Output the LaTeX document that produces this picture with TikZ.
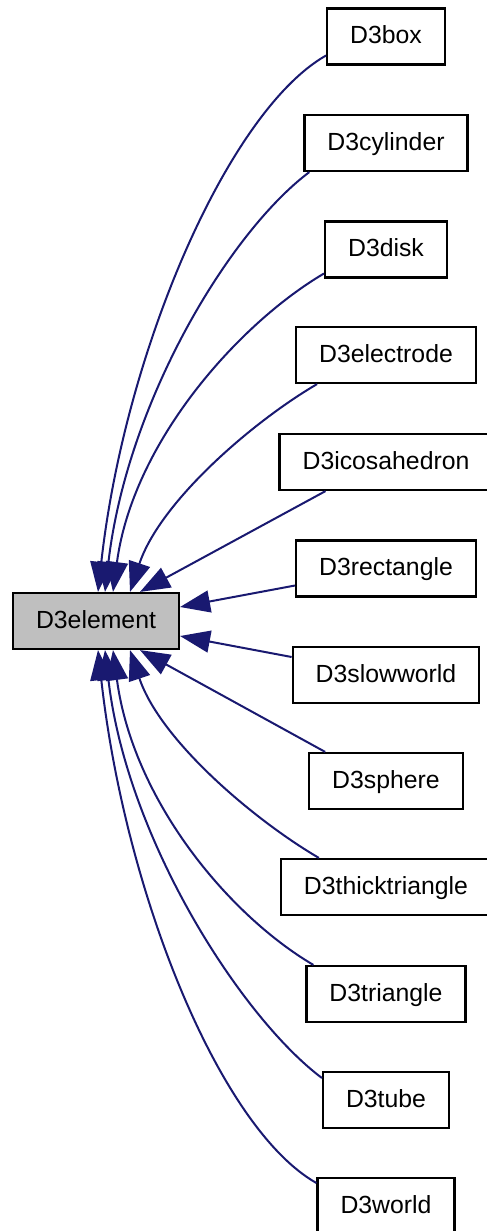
\documentclass[tikz,border=0pt]{standalone}
\usepackage{fontspec}
\setmainfont{Liberation Sans}
\usetikzlibrary{arrows.meta}
\definecolor{edgeblue}{HTML}{191970}
\definecolor{basegray}{HTML}{BFBFBF}
\begin{document}
\begin{tikzpicture}[x=1pt,y=-1pt,
  cls/.style={draw=black, line width=2.2pt, fill=white, minimum height=56pt,
    inner xsep=23pt, inner ysep=0pt, text height=18pt, text depth=4pt,
    font=\fontsize{24.8pt}{30pt}\selectfont},
  basecls/.style={cls, fill=basegray},
  inh/.style={draw=edgeblue, line width=2pt, -{Triangle[length=30pt,width=22pt]}}
]
\useasboundingbox (0,0) rectangle (487,1231);
\node[basecls] (el) at (96,621) {D3element};
\node[cls] (box)   at (386,36.5) {D3box};
\node[cls] (cyl)   at (386,143) {D3cylinder};
\node[cls] (disk)  at (386,249.5) {D3disk};
\node[cls] (ele)   at (386,355) {D3electrode};
\node[cls] (ico)   at (386,462) {D3icosahedron};
\node[cls] (rect)  at (386,568.5) {D3rectangle};
\node[cls] (slow)  at (386,675) {D3slowworld};
\node[cls] (sph)   at (386,781) {D3sphere};
\node[cls] (thick) at (386,887) {D3thicktriangle};
\node[cls] (tri)   at (386,994) {D3triangle};
\node[cls] (tube)  at (386,1100) {D3tube};
\node[cls] (world) at (386,1206) {D3world};

\draw[inh] ([yshift=-19pt]box.west) .. controls +(-97,55) and +(27,-243) .. ([xshift=2pt]el.north);
\draw[inh] ([xshift=6pt]cyl.south west) .. controls +(-80,60) and +(22,-190) .. ([xshift=9pt]el.north);
\draw[inh] ([yshift=-24pt]disk.west) .. controls +(-85,50) and +(20,-150) .. ([xshift=17pt]el.north);
\draw[inh] ([xshift=22pt]ele.south west) .. controls +(-65,38) and +(30,-90) .. ([xshift=34pt]el.north);
\draw[inh] ([xshift=47pt]ico.south west) -- ([xshift=44pt]el.north);
\draw[inh] ([yshift=-17pt]rect.west) -- ([yshift=14pt]el.east);
\draw[inh] ([yshift=18pt]slow.west) -- ([yshift=-15pt]el.east);
\draw[inh] ([xshift=17pt]sph.north west) -- ([xshift=44pt]el.south);
\draw[inh] ([xshift=39pt]thick.north west) .. controls +(-65,-38) and +(30,90) .. ([xshift=34pt]el.south);
\draw[inh] ([xshift=8pt]tri.north west) .. controls +(-85,-50) and +(20,150) .. ([xshift=17pt]el.south);
\draw[inh] ([yshift=22pt]tube.west) .. controls +(-80,-60) and +(22,190) .. ([xshift=9pt]el.south);
\draw[inh] ([yshift=23pt]world.west) .. controls +(-97,-55) and +(27,243) .. ([xshift=2pt]el.south);
\end{tikzpicture}
\end{document}
